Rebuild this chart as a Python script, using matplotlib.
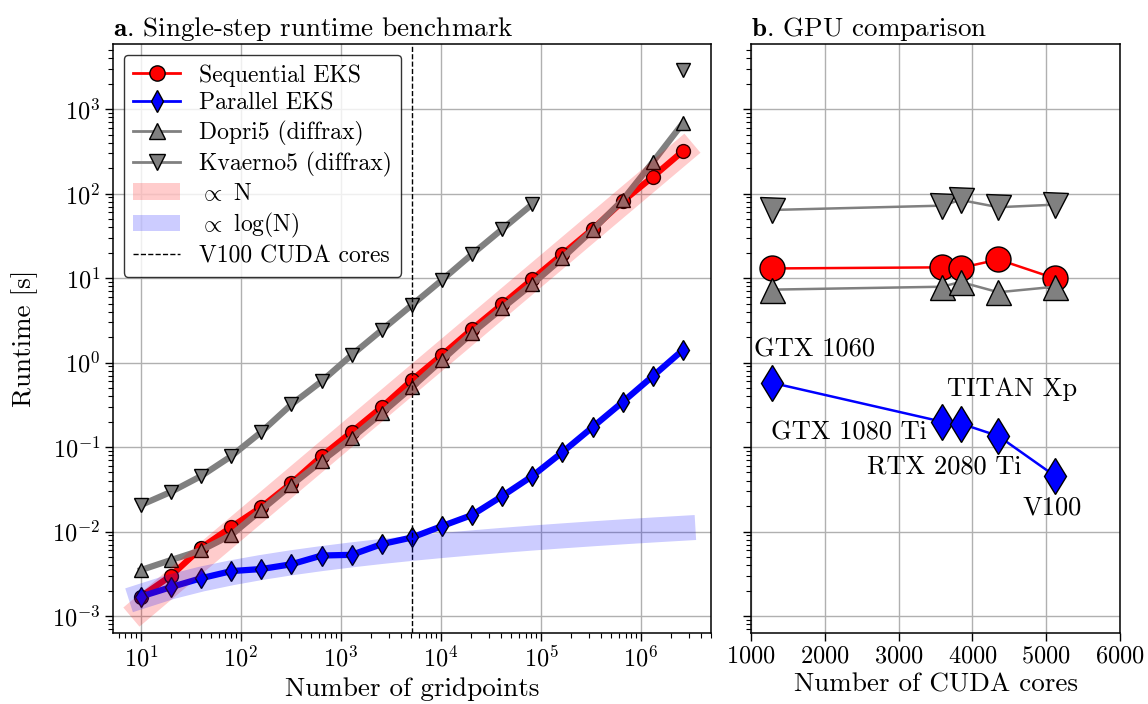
import numpy as np
import matplotlib
matplotlib.use("Agg")
import matplotlib.pyplot as plt
from matplotlib.patches import Patch
from matplotlib.lines import Line2D

plt.rcParams['font.family'] = ['cmr10', 'DejaVu Serif']
plt.rcParams['mathtext.fontset'] = 'cm'
plt.rcParams['axes.formatter.use_mathtext'] = True
plt.rcParams['axes.linewidth'] = 1.1

# --- data ---
gridpoints = np.array([10, 20, 40, 80, 160, 320, 640, 1280, 2560, 5120, 10240, 20480,
                       40960, 81920, 163840, 327680, 655360, 1310720, 2621440])
seq_eks = np.array([0.0017, 0.0030, 0.0064, 0.0113, 0.0195, 0.0375, 0.078, 0.151, 0.297,
                    0.62, 1.23, 2.49, 4.9, 9.7, 19.2, 38, 81, 158, 318])
par_eks = np.array([0.0017, 0.0022, 0.0028, 0.0034, 0.0036, 0.0041, 0.0052, 0.0053, 0.0071,
                    0.0085, 0.0116, 0.0157, 0.0263, 0.0454, 0.087, 0.172, 0.341, 0.69, 1.41])
dopri5 = np.array([0.0035, 0.0046, 0.0060, 0.0091, 0.0180, 0.0355, 0.068, 0.128, 0.252,
                   0.51, 1.07, 2.24, 4.4, 8.5, 17.3, 37, 84, 236, 682])
kvaerno5 = np.array([0.0206, 0.0295, 0.0454, 0.078, 0.151, 0.32, 0.60, 1.23, 2.43, 4.8,
                     9.5, 19.2, 38, 75, np.nan, np.nan, np.nan, np.nan, 2900])
n_scale = 1.21e-4      # slope of the "proportional to N" band
log_scale = 7.4e-4     # factor of the "proportional to log(N)" band
v100_cores = 5120

gpus = ['GTX 1060', 'GTX 1080 Ti', 'TITAN Xp', 'RTX 2080 Ti', 'V100']
cuda_cores = np.array([1280, 3584, 3840, 4352, 5120])
gpu_seq = np.array([13.0, 13.4, 13.2, 16.6, 9.9])
gpu_par = np.array([0.577, 0.20, 0.19, 0.135, 0.0454])
gpu_dopri = np.array([7.3, 7.9, 9.0, 6.8, 7.9])
gpu_kvaerno = np.array([64, 72, 84, 69, 74])
label_offsets = [(31, 24), (-67, -8), (37, 25), (-39, -22), (-2, -23)]

fig = plt.figure(figsize=(11.48, 7.04), dpi=100)
ax1 = fig.add_axes([0.0984, 0.1009, 0.5209, 0.8366])
ax2 = fig.add_axes([0.6542, 0.1009, 0.3214, 0.8366], sharey=ax1)

mk = dict(markeredgecolor='black', markeredgewidth=1.0)

# left panel
ax1.plot(gridpoints, seq_eks, '-o', color='red', lw=4.5, ms=10, **mk)
ax1.plot(gridpoints, par_eks, '-d', color='blue', lw=4.5, ms=10, **mk)
ax1.plot(gridpoints, dopri5, '-^', color='gray', lw=4.5, ms=10, **mk)
ax1.plot(gridpoints, kvaerno5, '-v', color='gray', lw=4.5, ms=10, **mk)
ax1.axvline(v100_cores, color='black', ls='--', lw=1.0)
ax1.plot(gridpoints, n_scale * gridpoints, color='red', alpha=0.2, lw=18)
ax1.plot(gridpoints, log_scale * np.log(gridpoints), color='blue', alpha=0.2, lw=18)
ax1.set_xscale('log')
ax1.set_yscale('log')
ax1.set_xlim(5.25, 5.0e6)
ax1.set_ylim(6.3e-4, 5.9e3)

handles = [
    Line2D([], [], color='red', marker='o', lw=2, ms=11, **mk),
    Line2D([], [], color='blue', marker='d', lw=2, ms=11, **mk),
    Line2D([], [], color='gray', marker='^', lw=2, ms=11, **mk),
    Line2D([], [], color='gray', marker='v', lw=2, ms=11, **mk),
    Patch(facecolor='red', alpha=0.2, edgecolor='none'),
    Patch(facecolor='blue', alpha=0.2, edgecolor='none'),
    Line2D([], [], color='black', ls='--', lw=1.0),
]
labels = ['Sequential EKS', 'Parallel EKS', 'Dopri5 (diffrax)', 'Kvaerno5 (diffrax)',
          r'$\propto$ N', r'$\propto$ log(N)', 'V100 CUDA cores']
leg = ax1.legend(handles, labels, loc='upper left', fontsize=17, edgecolor='black',
                 fancybox=True, labelspacing=0.25, borderaxespad=0.45)
leg.get_frame().set_linewidth(1.0)

ax1.set_title(r'$\mathbf{a}$. Single-step runtime benchmark', loc='left', fontsize=19.5)
ax1.set_xlabel('Number of gridpoints', fontsize=19.5, labelpad=4)
ax1.set_ylabel('Runtime [s]', fontsize=19.5, labelpad=10)

# right panel
ax2.plot(cuda_cores, gpu_kvaerno, '-v', color='gray', lw=1.8, ms=18, **mk)
ax2.plot(cuda_cores, gpu_seq, '-o', color='red', lw=1.8, ms=18, **mk)
ax2.plot(cuda_cores, gpu_dopri, '-^', color='gray', lw=1.8, ms=18, **mk)
ax2.plot(cuda_cores, gpu_par, '-d', color='blue', lw=1.8, ms=18, **mk)
for name, x, y, off in zip(gpus, cuda_cores, gpu_par, label_offsets):
    ax2.annotate(name, (x, y), xytext=off, textcoords='offset points',
                 ha='center', va='center', fontsize=19)
ax2.set_xlim(1000, 6000)
ax2.set_xticks([1000, 2000, 3000, 4000, 5000, 6000])
ax2.tick_params(axis='y', labelleft=False)
ax2.set_title(r'$\mathbf{b}$. GPU comparison', loc='left', fontsize=19.5)
ax2.set_xlabel('Number of CUDA cores', fontsize=19.5, labelpad=4)

for ax in (ax1, ax2):
    ax.grid(True, which='major', color='#b0b0b0', lw=1.0)
    ax.set_axisbelow(True)
    ax.tick_params(which='major', length=5.5, width=1.0, labelsize=17.5)
    ax.tick_params(which='minor', length=3.5, width=0.8)

fig.savefig('out.png', dpi=100)
